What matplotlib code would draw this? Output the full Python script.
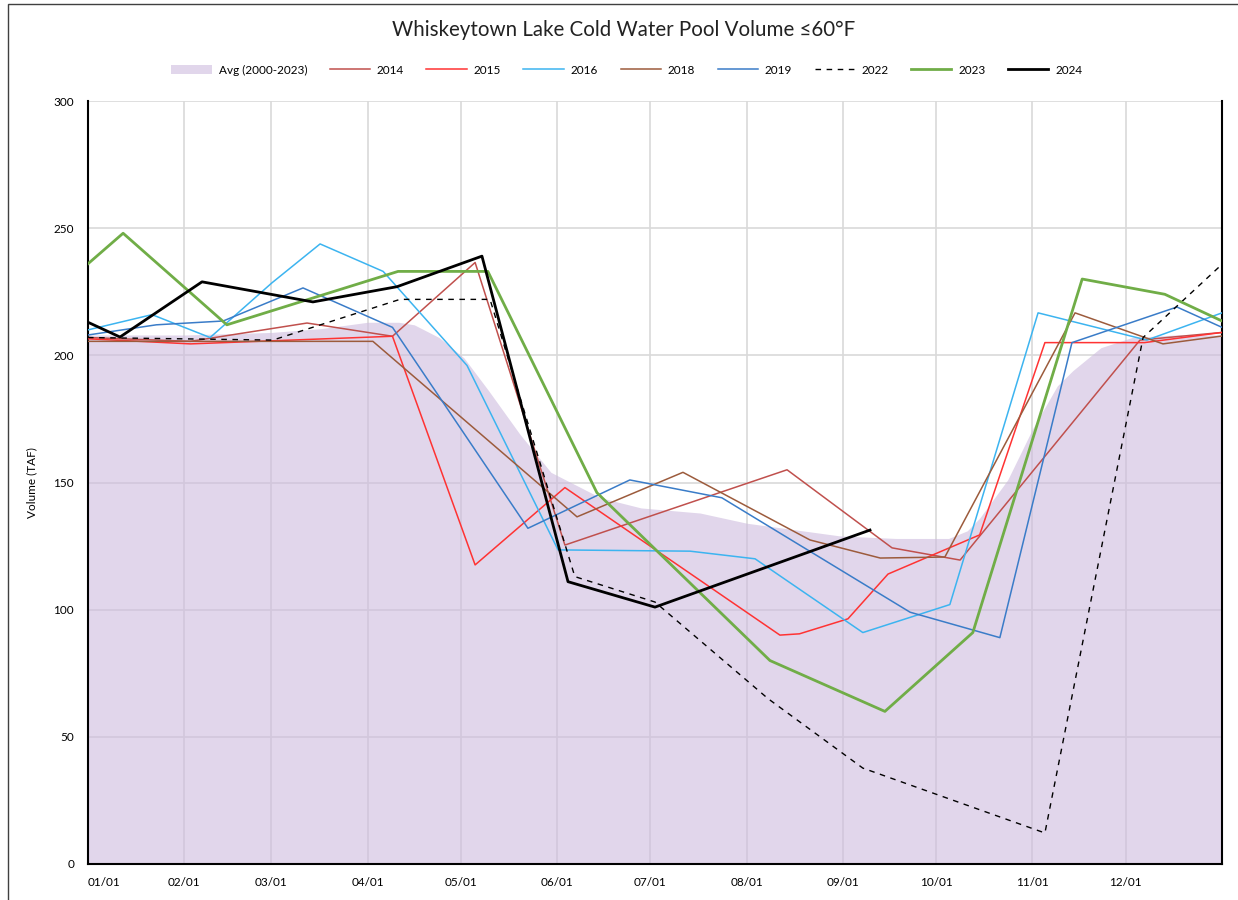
import matplotlib
matplotlib.use("Agg")
import matplotlib.pyplot as plt
from matplotlib.patches import Rectangle, Patch
from matplotlib.lines import Line2D

plt.rcParams["font.family"] = ["Lato", "DejaVu Sans"]

# ── data (day of year, volume TAF) ───────────────────────────────────────────
month_days = [0, 31, 59, 90, 120, 151, 181, 212, 243, 273, 304, 334]
month_labels = ["01/01", "02/01", "03/01", "04/01", "05/01", "06/01",
                "07/01", "08/01", "09/01", "10/01", "11/01", "12/01"]

avg_days = [0, 15, 31, 45, 59, 75, 90, 100, 105, 113, 121, 129, 139, 149,
            165, 178, 197, 212, 242, 260, 277, 283, 287, 296, 304, 312,
            317, 326, 336, 350, 365]
avg_vals = [208, 208, 208, 208.5, 209, 210.5, 213, 213, 212, 207, 199, 186,
            169, 154, 144, 140, 138, 134, 129, 128, 128, 131, 136, 151, 171,
            188, 194, 203, 207, 208, 208]

d2014 = [0, 33, 70.5, 98, 124.6, 153.5, 225, 258.8, 280.7, 338.6, 365]
v2014 = [207, 205.5, 212.7, 207.5, 236.5, 125.4, 155, 124.3, 119.5, 206, 209]

d2015 = [0, 33, 98, 124.6, 153.5, 222.7, 229, 244.6, 257.5, 287, 308, 340, 365]
v2015 = [206.5, 204.5, 207.5, 117.6, 148, 90, 90.5, 96.4, 114, 129.4, 205, 205, 209]

d2016 = [0, 20.6, 39.3, 59.2, 74.7, 95, 122, 151.3, 193.8, 214.7, 249.4,
         277.4, 305.8, 340.8, 365]
v2016 = [210, 216, 207, 228.5, 243.8, 233, 196, 123.5, 123, 120, 91, 102,
         216.7, 206, 216.7]

d2018 = [0, 91.7, 157.4, 191.5, 232.4, 255, 275.8, 317.7, 346, 365]
v2018 = [205.5, 205.5, 136.5, 154, 127.4, 120.3, 120.7, 216.7, 204.5, 207.6]

d2019 = [0, 22, 43.5, 69.2, 98, 141.6, 174.4, 204, 264.6, 293.5, 316.7, 350.5, 365]
v2019 = [208, 212, 213.5, 226.5, 211, 132, 151, 144, 99, 89, 205, 219, 211]

d2022 = [0, 59.5, 100.4, 129.4, 156.7, 182.5, 218.9, 249.4, 308, 339.6, 364.3]
v2022 = [207, 206, 222, 222, 113, 103, 65, 37.7, 12.2, 207, 235]

d2023 = [0, 11.3, 44.7, 99.8, 128.7, 163.8, 219.5, 256.5, 284.8, 320, 346.6, 365]
v2023 = [236, 248, 212, 233, 233, 146, 80, 60, 91, 230, 224, 213.5]

d2024 = [0, 10.3, 36.7, 72.4, 99.5, 126.8, 154.5, 182.5, 251.7]
v2024 = [213, 207.2, 228.9, 221, 227, 239, 111, 101, 131.3]

# ── styling ──────────────────────────────────────────────────────────────────
C_AVG = "#cdbbde"
C_GRID = "#d9d9d9"

fig = plt.figure(figsize=(12.38, 9), dpi=100)
ax = fig.add_axes([88 / 1238, 36 / 900, (1222 - 88) / 1238, (864 - 101) / 900])

ax.grid(True, color=C_GRID, lw=1.2, zorder=0)
ax.set_axisbelow(True)

ax.fill_between(avg_days, avg_vals, 0, color=C_AVG, alpha=0.6, lw=0, zorder=1)

series = [
    (d2014, v2014, "#c0504d", 1.1, "-"),
    (d2015, v2015, "#ff3333", 1.1, "-"),
    (d2016, v2016, "#3cb4f0", 1.1, "-"),
    (d2018, v2018, "#9c5b3c", 1.1, "-"),
    (d2019, v2019, "#3a7cc8", 1.1, "-"),
    (d2022, v2022, "#000000", 1.0, (0, (4, 4))),
    (d2023, v2023, "#70ad47", 2.0, "-"),
    (d2024, v2024, "#000000", 2.0, "-"),
]
for d, v, col, lw, ls in series:
    ax.plot(d, v, color=col, lw=lw, ls=ls, zorder=3)

ax.set_xlim(0, 365)
ax.set_ylim(0, 300)
ax.set_xticks(month_days)
ax.set_xticklabels(month_labels, fontsize=8.5)
ax.set_yticks(range(0, 301, 50))
ax.tick_params(axis="both", length=0, labelsize=8.5)
ax.tick_params(axis="x", pad=9)
ax.tick_params(axis="y", pad=10)
ax.get_xticklabels()[0].set_ha("left")
ax.set_ylabel("Volume (TAF)", fontsize=8.5, labelpad=12)

for s in ["left", "bottom", "right"]:
    ax.spines[s].set_color("black")
    ax.spines[s].set_linewidth(1.5)
ax.spines["top"].set_visible(False)

fig.text(624 / 1238, 1 - 30 / 900,
         "Whiskeytown Lake Cold Water Pool Volume \u226460\u00b0F",
         ha="center", va="center", fontsize=14.8, color="#222222")

handles = [Patch(facecolor=C_AVG, alpha=0.6, edgecolor="none")]
labels = ["Avg (2000-2023)"]
for (d, v, col, lw, ls), yr in zip(series, ["2014", "2015", "2016", "2018",
                                             "2019", "2022", "2023", "2024"]):
    handles.append(Line2D([], [], color=col, lw=lw, ls=ls))
    labels.append(yr)
fig.legend(handles, labels, loc="center", bbox_to_anchor=(627 / 1238, 1 - 70 / 900),
           ncol=9, frameon=False, fontsize=8.5, handlelength=3.4,
           handletextpad=0.6, columnspacing=1.9, handleheight=0.9)

fig.patches.append(Rectangle((8 / 1238, -0.02), 1.0, 1 - 4 / 900 + 0.02,
                             transform=fig.transFigure, fill=False,
                             edgecolor="#404040", lw=1.0))

fig.savefig("out.png", dpi=100, facecolor="white")
